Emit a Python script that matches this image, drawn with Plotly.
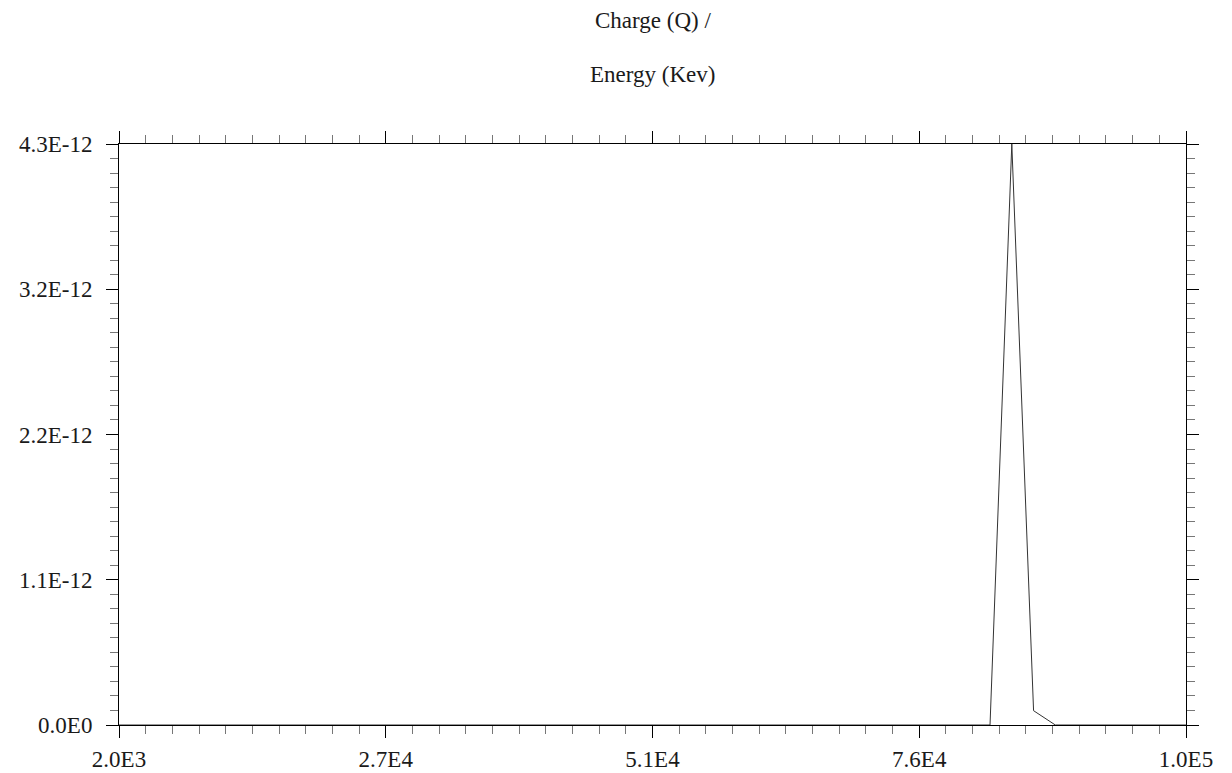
import plotly.graph_objects as go

# Spectrum samples: energy (keV) vs collected charge (Q)
energy_kev = [2000, 82000, 84000, 86000, 88000, 100000]
charge_q = [0.0, 0.0, 4.3e-12, 0.106e-12, 0.0, 0.0]

# Axis tick positions and their printed labels
x_tick_vals = [2000, 26500, 51000, 75500, 100000]
x_tick_text = ["2.0E3", "2.7E4", "5.1E4", "7.6E4", "1.0E5"]
y_tick_vals = [0.0, 1.075e-12, 2.15e-12, 3.225e-12, 4.3e-12]
y_tick_text = ["0.0E0", "1.1E-12", "2.2E-12", "3.2E-12", "4.3E-12"]

FONT = "Liberation Serif"
TXT = "#1a1a1a"
FS = 23

fig = go.Figure()
fig.add_trace(go.Scatter(
    x=energy_kev, y=charge_q, mode="lines",
    line=dict(color="#333333", width=1),
    hoverinfo="skip", showlegend=False,
))

axis_common = dict(
    showline=True, linecolor="black", linewidth=1,
    mirror="allticks", ticks="outside", ticklen=12, tickwidth=1,
    tickcolor="black", showgrid=False, zeroline=False, automargin=False,
    tickfont=dict(family=FONT, size=FS, color=TXT),
)

fig.update_xaxes(
    range=[2000, 100000], tickmode="array",
    tickvals=x_tick_vals, ticktext=x_tick_text, ticklabelstandoff=1,
    minor=dict(ticks="outside", ticklen=8, tickwidth=1, tickcolor="#777777",
               tick0=2000, dtick=2450, showgrid=False),
    **axis_common,
)
fig.update_yaxes(
    range=[0, 4.3e-12], tickmode="array",
    tickvals=y_tick_vals, ticktext=y_tick_text, ticklabelstandoff=9,
    minor=dict(ticks="outside", ticklen=8, tickwidth=1, tickcolor="#777777",
               tick0=0, dtick=1.075e-13, showgrid=False),
    **axis_common,
)

# Two-line heading centred over the plot area
for text, ypix in [("Charge (Q) /", 20), ("Energy (Kev)", 74)]:
    fig.add_annotation(
        text=text, xref="paper", yref="paper", x=0.5,
        y=1 + (143.5 - ypix) / 581.5, yanchor="middle", showarrow=False,
        font=dict(family=FONT, size=FS, color=TXT),
    )

fig.update_layout(
    width=1232, height=773,
    margin=dict(l=119, r=46, t=143.5, b=48),
    paper_bgcolor="white", plot_bgcolor="white",
)

fig.write_html("out.html")
